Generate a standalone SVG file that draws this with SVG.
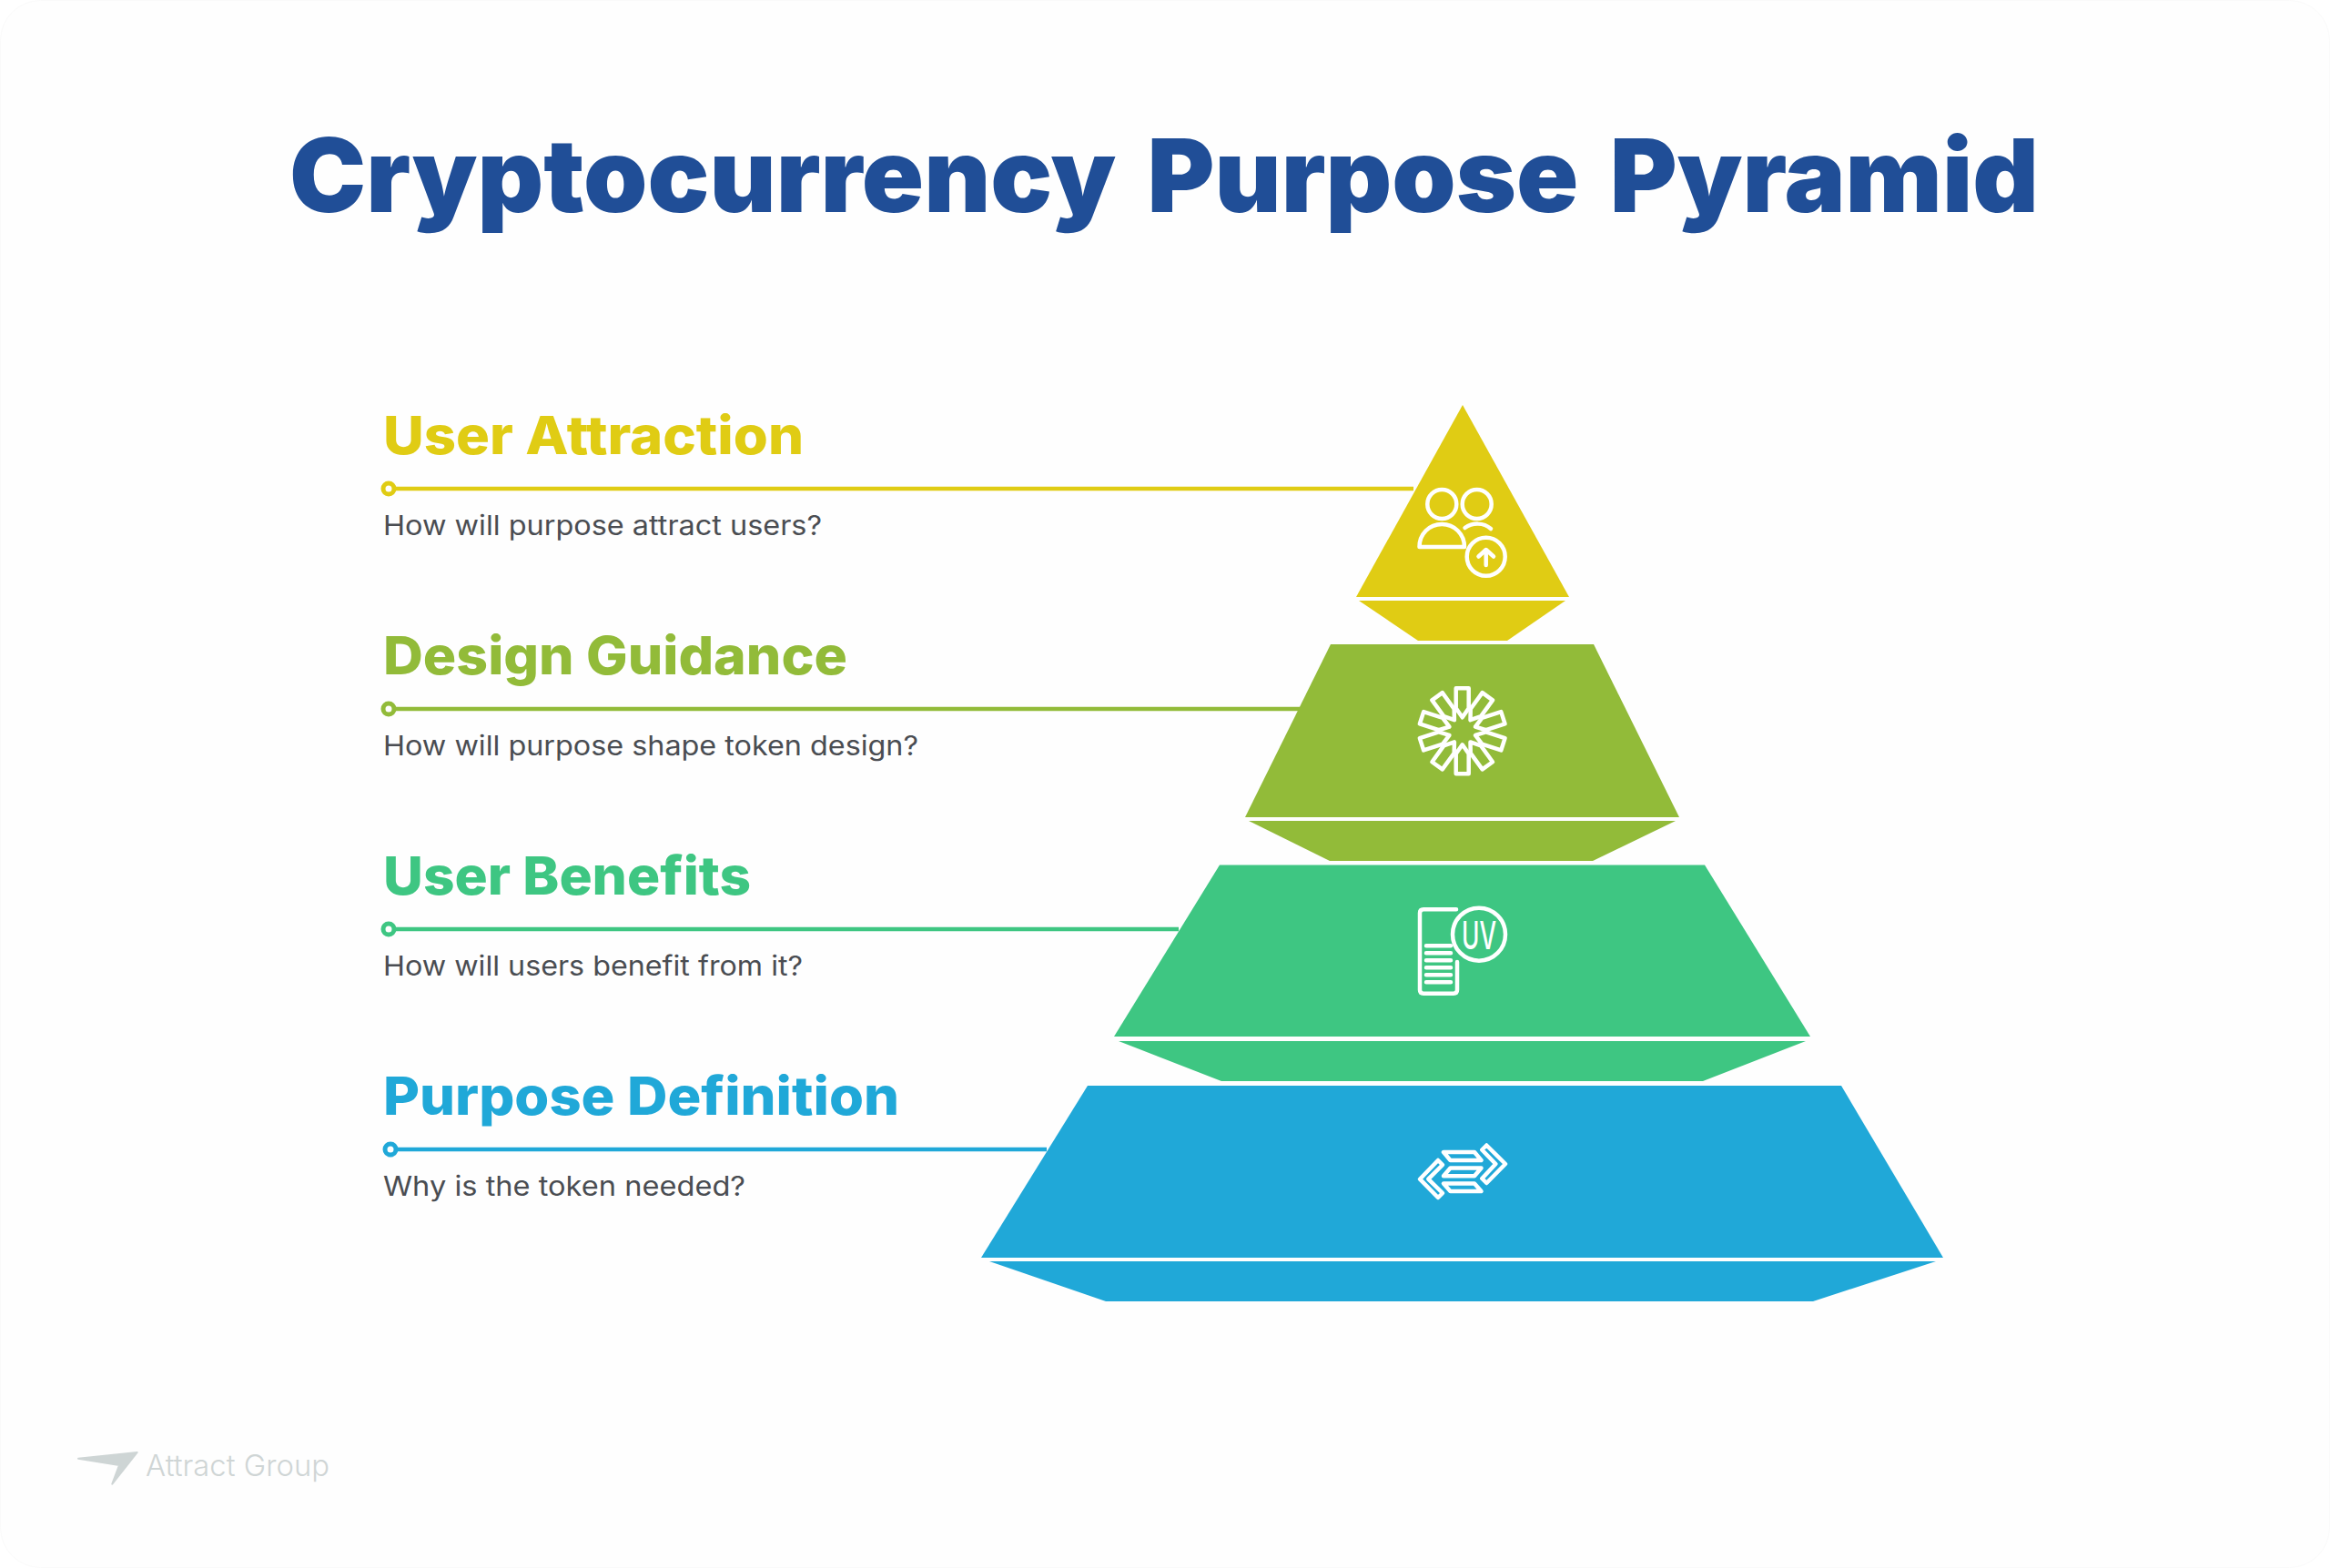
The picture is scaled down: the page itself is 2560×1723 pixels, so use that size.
<svg xmlns="http://www.w3.org/2000/svg" width="2560" height="1723" viewBox="0 0 2560 1723">
<style>
text{font-family:Inter,"Liberation Sans",sans-serif}
.title{font-size:112px;font-weight:900;fill:#204e97;word-spacing:12px}
.head{font-size:58px;font-weight:800}
.desc{font-size:30px;font-weight:400;fill:#4a4d52}
.ic{fill:none;stroke:#fff;stroke-width:4.500;stroke-linejoin:round;stroke-linecap:round}
.dot{fill:#fff;stroke-width:5}
.conn{stroke-width:4.500;fill:none}
.y{fill:#e0cc14}.g{fill:#92bb39}.t{fill:#3ec682}.b{fill:#20a8d8}
.ys{stroke:#e0cc14}.gs{stroke:#92bb39}.ts{stroke:#3ec682}.bs{stroke:#20a8d8}
</style>
<defs>
<path id="ray" d="M-7,-47H7V-25L0,-15L-7,-25Z"/>
</defs>
<rect x="0.5" y="0.5" width="2559" height="1722" rx="44" fill="#fefefe" stroke="#fafafa"/>
<text id="title" class="title" x="318" y="233" textLength="1922" lengthAdjust="spacingAndGlyphs">Cryptocurrency Purpose Pyramid</text>
<g id="connectors">
<path class="conn ys" d="M433,537H1553"/><circle class="dot ys" cx="427" cy="537" r="6"/>
<path class="conn gs" d="M433,779H1428"/><circle class="dot gs" cx="427" cy="779" r="6"/>
<path class="conn ts" d="M433,1021H1295"/><circle class="dot ts" cx="427" cy="1021" r="6"/>
<path class="conn bs" d="M435,1263H1150"/><circle class="dot bs" cx="429" cy="1263" r="6"/>
</g>
<g id="user-attraction">
<polygon class="y" points="1607,445 1724,656 1490,656"/>
<polygon class="y" points="1493,660 1720,660 1656,704 1558,704"/>
<g class="ic">
<circle cx="1584.300" cy="554" r="16"/><circle cx="1622.700" cy="554" r="16"/>
<path d="M1559.500,601C1559.500,587 1570,576 1584.300,576C1598,576 1609,587 1609,601Z"/>
<path d="M1609.500,580C1618,574 1630,574 1638,581"/>
<circle cx="1632.700" cy="611.700" r="21"/>
<path d="M1632.700,621V605M1624.500,611.500L1632.700,604L1641,611.500"/>
</g>
<text class="head y" x="421" y="499" textLength="462" lengthAdjust="spacingAndGlyphs">User Attraction</text>
<text class="desc" x="421" y="588" textLength="482" lengthAdjust="spacingAndGlyphs">How will purpose attract users?</text>
</g>
<g id="design-guidance">
<polygon class="g" points="1462,708 1751,708 1845,898 1368,898"/>
<polygon class="g" points="1372,902 1841,902 1750,946 1461,946"/>
<g class="ic" transform="translate(1606.700,803.300)">
<use href="#ray"/><use href="#ray" transform="rotate(36)"/><use href="#ray" transform="rotate(72)"/><use href="#ray" transform="rotate(108)"/><use href="#ray" transform="rotate(144)"/><use href="#ray" transform="rotate(180)"/><use href="#ray" transform="rotate(216)"/><use href="#ray" transform="rotate(252)"/><use href="#ray" transform="rotate(288)"/><use href="#ray" transform="rotate(324)"/>
</g>
<text class="head g" x="421" y="741" textLength="510" lengthAdjust="spacingAndGlyphs">Design Guidance</text>
<text class="desc" x="421" y="830" textLength="588" lengthAdjust="spacingAndGlyphs">How will purpose shape token design?</text>
</g>
<g id="user-benefits">
<polygon class="t" points="1340,950.500 1873,950.500 1989,1139 1224,1139"/>
<polygon class="t" points="1229,1144 1984,1144 1871,1188 1342,1188"/>
<g class="ic">
<path d="M1600,999.300H1564Q1560,999.300 1560,1003.300V1087.700Q1560,1091.700 1564,1091.700H1597Q1601,1091.700 1601,1087.700V1057"/>
<circle cx="1625" cy="1026.700" r="29"/>
<path d="M1567,1039.300H1594M1567,1047.300H1594M1567,1055.300H1594M1567,1063.300H1594M1567,1071.300H1594M1567,1079.300H1594"/>
</g>
<text x="1625" y="1043" text-anchor="middle" font-size="42" font-weight="500" fill="#fff" textLength="38" lengthAdjust="spacingAndGlyphs">UV</text>
<text class="head t" x="421" y="983" textLength="404" lengthAdjust="spacingAndGlyphs">User Benefits</text>
<text class="desc" x="421" y="1072" textLength="461" lengthAdjust="spacingAndGlyphs">How will users benefit from it?</text>
</g>
<g id="purpose-definition">
<polygon class="b" points="1195,1193 2023,1193 2135,1382 1078,1382"/>
<polygon class="b" points="1087,1386 2127,1386 1992,1430 1215,1430"/>
<g class="ic">
<polygon points="1560,1295.700 1580,1275 1585,1280 1569.300,1295.700 1585,1311 1580,1316"/>
<polygon points="1633.300,1258.500 1654,1279 1633.300,1300 1628.300,1295 1643.300,1279 1628.300,1263.500"/>
<polygon points="1586,1266 1620,1266 1627.500,1275 1593.500,1275"/>
<polygon points="1593.500,1283.500 1627.500,1283.500 1620,1292.300 1586,1292.300"/>
<polygon points="1586,1300.500 1620,1300.500 1627.500,1309 1593.500,1309"/>
</g>
<text class="head b" x="421" y="1225" textLength="567" lengthAdjust="spacingAndGlyphs">Purpose Definition</text>
<text class="desc" x="421" y="1314" textLength="398" lengthAdjust="spacingAndGlyphs">Why is the token needed?</text>
</g>
<g id="logo">
<polygon points="86,1602.700 150.700,1596 123.300,1630.700 131,1610" fill="#ced5d5" stroke="#ced5d5" stroke-width="2" stroke-linejoin="round"/>
<text x="160" y="1622" font-size="33" font-weight="300" fill="#cfd5d5" textLength="202" lengthAdjust="spacingAndGlyphs">Attract Group</text>
</g>
</svg>
